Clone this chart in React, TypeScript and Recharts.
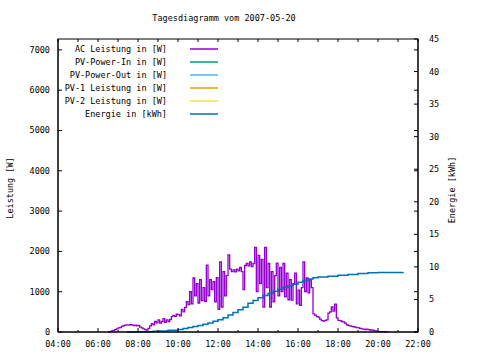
import React from 'react'
import { ComposedChart, Line, XAxis, YAxis } from 'recharts'

// AC-Leistung alle 5 Minuten ab 06:30 (W)
const acStartHour = 6.5
const acWatts = [
  0, 10, 30, 40, 60, 80, 100, 110, 140, 160, 170, 175,
  170, 180, 175, 160, 170, 150, 165, 120, 100, 80, 60, 50,
  90, 150, 210, 180, 260, 230, 300, 220, 260, 330, 240, 300,
  260, 310, 380, 410, 390, 440, 430, 400, 560, 500, 610, 750,
  680, 1000, 700, 1340, 900, 1200, 720, 1300, 780, 1100, 760, 1660,
  900, 1300, 1050, 1250, 750, 1350, 560, 1740, 620, 1500, 900, 1400,
  1910, 1560, 1500, 1540, 1490, 1560, 1520, 1600, 1500, 1050, 1650, 1700,
  1640, 1740, 1620, 1700, 2100, 1000, 1900, 1200, 1800, 620, 2100, 1100,
  1700, 620, 1500, 750, 1400, 1710, 900, 1600, 1000, 1700, 870, 1460,
  800, 1300, 790, 1200, 1460, 700, 1040, 660, 1100, 1740, 1000, 1340,
  970, 1300, 1100, 450, 420, 380, 370, 320, 280, 270, 290, 300,
  470, 500, 620, 520, 690, 350, 290, 280, 260, 250, 220, 180,
  160, 150, 140, 130, 120, 110, 100, 90, 80, 70, 60, 70,
  60, 50, 50, 40, 30, 20, 10, 10, 10, 10, 5, 5,
  0,
]

// Energie (kWh), kumuliert
const energyHours = [
  7.45, 8.0, 8.5, 8.75, 9.0, 9.5, 10.0, 10.25, 10.5, 10.75, 11.0, 11.25,
  11.5, 11.75, 12.0, 12.25, 12.5, 12.75, 13.0, 13.25, 13.5, 13.75, 14.0, 14.25,
  14.5, 14.75, 15.0, 15.25, 15.5, 15.75, 16.0, 16.25, 16.5, 16.75, 17.0, 17.5,
  18.0, 18.5, 19.0, 19.5, 20.0, 21.25,
]
const energyKwh = [
  0, 0.02, 0.05, 0.1, 0.15, 0.25, 0.4, 0.55, 0.7, 0.85, 1.0, 1.2,
  1.4, 1.65, 1.9, 2.2, 2.6, 3.0, 3.4, 3.8, 4.4, 4.85, 5.25, 5.6,
  5.9, 6.25, 6.55, 6.85, 7.1, 7.35, 7.65, 7.9, 8.15, 8.35, 8.45, 8.55,
  8.7, 8.85, 9.0, 9.1, 9.15, 9.2,
]

const hourTicks = [4, 5, 6, 7, 8, 9, 10, 11, 12, 13, 14, 15, 16, 17, 18, 19, 20, 21, 22]
const wattTicks = [0, 1000, 2000, 3000, 4000, 5000, 6000, 7000]
const kwhTicks = [0, 5, 10, 15, 20, 25, 30, 35, 40, 45]
const wattMax = 7270

const legendItems = [
  { name: 'AC Leistung in [W]', color: '#9400d3' },
  { name: 'PV-Power-In in [W]', color: '#009e73' },
  { name: 'PV-Power-Out in [W]', color: '#56b4e9' },
  { name: 'PV-1 Leistung in [W]', color: '#e69f00' },
  { name: 'PV-2 Leistung in [W]', color: '#f0e442' },
  { name: 'Energie in [kWh]', color: '#0072b2' },
]

const acData = acWatts.map((w, i) => ({ hour: acStartHour + (i * 5) / 60, ac: w }))
const energyData = energyHours.map((h, i) => ({ hour: h, energy: energyKwh[i] }))

const FONT = '"DejaVu Sans Mono", monospace'
const FS = 8.5
const PLOT_X = 58
const PLOT_Y = 39
const PLOT_W = 360
const PLOT_H = 293

const pad = (n: number) => (n < 10 ? '0' + n : '' + n)

// untere Ticks, gespiegelt auch am oberen Rand
const BottomTick = ({ x, y, payload }: any) => {
  const major = payload.value % 2 === 0
  return (
    <g>
      <line x1={x} x2={x} y1={y} y2={y - (major ? 4 : 2)} stroke="#000" />
      <line x1={x} x2={x} y1={y - PLOT_H} y2={y - PLOT_H + 3} stroke="#000" />
      {major && (
        <text x={x} y={y + 15} textAnchor="middle" fontFamily={FONT} fontSize={FS} fill="#000">
          {pad(payload.value) + ':00'}
        </text>
      )}
    </g>
  )
}

// linke Ticks, gespiegelt auch am rechten Rand
const LeftTick = ({ x, y, payload }: any) => (
  <g>
    <line x1={x} x2={x + 4} y1={y} y2={y} stroke="#000" />
    <line x1={x + PLOT_W} x2={x + PLOT_W - 4} y1={y} y2={y} stroke="#000" />
    <text x={x - 8} y={y + 3} textAnchor="end" fontFamily={FONT} fontSize={FS} fill="#000">
      {payload.value}
    </text>
  </g>
)

const RightTick = ({ x, y, payload }: any) => (
  <g>
    <line x1={x} x2={x - 4} y1={y} y2={y} stroke="#000" />
    <text x={x + 11} y={y + 3} textAnchor="start" fontFamily={FONT} fontSize={FS} fill="#000">
      {payload.value}
    </text>
  </g>
)

export default function App() {
  return (
    <div style={{ position: 'absolute', left: 0, top: 0, width: 480, height: 360, background: '#fff' }}>
      <ComposedChart width={480} height={360} margin={{ top: PLOT_Y, right: 0, bottom: 0, left: 0 }}>
        <XAxis
          dataKey="hour"
          type="number"
          domain={[4, 22]}
          ticks={hourTicks}
          interval={0}
          height={28}
          axisLine={{ stroke: '#000' }}
          tickLine={false}
          tickSize={0}
          tickMargin={0}
          tick={<BottomTick />}
        />
        <YAxis
          yAxisId="watt"
          domain={[0, wattMax]}
          ticks={wattTicks}
          interval={0}
          width={PLOT_X}
          axisLine={{ stroke: '#000' }}
          tickLine={false}
          tickSize={0}
          tickMargin={0}
          tick={<LeftTick />}
        />
        <YAxis
          yAxisId="kwh"
          orientation="right"
          domain={[0, 45]}
          ticks={kwhTicks}
          interval={0}
          width={62}
          axisLine={{ stroke: '#000' }}
          tickLine={false}
          tickSize={0}
          tickMargin={0}
          tick={<RightTick />}
        />
        <Line
          yAxisId="watt"
          data={acData}
          dataKey="ac"
          type="stepAfter"
          stroke="#9400d3"
          strokeWidth={1.3}
          dot={false}
          isAnimationActive={false}
        />
        <Line
          yAxisId="kwh"
          data={energyData}
          dataKey="energy"
          type="stepAfter"
          stroke="#0072b2"
          strokeWidth={1.5}
          dot={false}
          isAnimationActive={false}
        />
      </ComposedChart>
      <svg width={480} height={360} style={{ position: 'absolute', left: 0, top: 0, pointerEvents: 'none' }}>
        <rect x={PLOT_X} y={PLOT_Y} width={PLOT_W} height={PLOT_H} fill="none" stroke="#000" />
        <text x={224} y={21} textAnchor="middle" fontFamily={FONT} fontSize={FS} fill="#000">
          Tagesdiagramm vom 2007-05-20
        </text>
        <g transform={`translate(${PLOT_X},${PLOT_Y})`}>
          {legendItems.map((item, i) => (
            <g key={item.name}>
              <text x={109} y={13 + i * 13} textAnchor="end" fontFamily={FONT} fontSize={FS} fill="#000">
                {item.name}
              </text>
              <line x1={132} x2={160} y1={10 + i * 13} y2={10 + i * 13} stroke={item.color} strokeWidth={1.5} />
            </g>
          ))}
        </g>
        <text
          transform="translate(13,188) rotate(-90)"
          textAnchor="middle"
          fontFamily={FONT}
          fontSize={FS}
          fill="#000"
        >
          Leistung [W]
        </text>
        <text
          transform="translate(455,190) rotate(-90)"
          textAnchor="middle"
          fontFamily={FONT}
          fontSize={FS}
          fill="#000"
        >
          Energie [kWh]
        </text>
      </svg>
    </div>
  )
}
